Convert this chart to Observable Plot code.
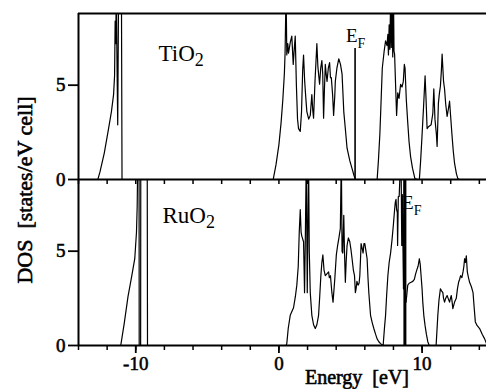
<!DOCTYPE html>
<html><head><meta charset="utf-8">
<script src="https://cdn.jsdelivr.net/npm/d3@7"></script>
<script src="https://cdn.jsdelivr.net/npm/@observablehq/plot@0.6"></script>
<style>
body{margin:0;background:#fff}#chart{width:486px;height:389px}
g[aria-label$="tick label"] text{stroke:black;stroke-width:0.55px}
</style>
</head><body><div id="chart"></div>
<script>
const panels = ["TiO2", "RuO2"];

// TiO2 DOS (energy in eV, states/eV cell)
const tiEnergy = [-14,-12.65,-12.5,-12.2,-11.9,-11.7,-11.55,-11.48,-11.44,-11.4,-11.36,-11.3,-11.26,-11.2,-11.0,-10.96,
  -0.4,-0.2,0.0,0.15,0.27,0.38,0.43,0.5,0.55,0.62,0.67,0.8,0.9,1.0,1.07,1.14,1.22,1.3,1.37,1.49,1.58,1.66,1.72,1.8,1.88,1.95,2.08,2.19,2.3,2.36,2.42,2.52,2.65,2.72,2.84,2.92,3.0,3.06,3.12,3.18,3.24,3.3,3.36,3.45,3.54,3.6,3.66,3.75,3.82,3.9,3.94,4.05,4.18,4.3,4.41,4.47,4.53,4.65,4.76,4.95,5.1,5.25,5.35,
  6.86,6.95,7.05,7.12,7.22,7.35,7.45,7.55,7.61,7.65,7.7,7.75,7.8,7.85,7.9,7.95,8.0,8.04,8.08,8.15,8.22,8.3,8.39,8.5,8.6,8.69,8.76,8.81,8.9,9.0,9.09,9.2,9.33,9.5,9.7,
  9.81,9.9,9.98,10.1,10.21,10.28,10.35,10.45,10.63,10.75,10.82,10.9,11.0,11.05,11.14,11.2,11.28,11.35,11.4,11.5,11.57,11.65,11.75,11.85,11.92,12.0,12.08,12.18,12.27,12.4,12.5,12.6,14.5];
const tiDos = [0,0,0.4,1.4,2.7,3.6,4.5,5.5,8.4,7.2,10,5.5,2.9,10,10,0,
  0,0.8,1.85,3.0,4.2,5.6,6.7,10,6.6,7.2,6.7,7.3,7.6,6.1,6.9,7.6,5.0,3.2,2.7,2.55,3.6,5.8,6.6,5.2,4.3,3.6,3.2,3.4,4.5,3.7,3.25,5.2,7.2,6.0,5.05,5.9,6.3,5.6,3.25,4.8,6.1,5.6,5.2,5.9,6.2,5.4,5.4,4.5,3.4,4.4,5.2,5.9,6.4,6.1,5.6,4.6,3.6,2.6,1.66,1.0,0.6,0.2,0,
  0,1.0,2.4,3.8,5.9,6.8,7.35,7.1,7.7,6.6,8.2,6.9,9.5,7.0,10,6.5,10,6.8,6.65,5.0,3.4,4.6,4.3,5.05,4.9,5.2,6.1,5.9,4.2,3.0,2.0,1.2,0.6,0.05,0,
  0,1.0,2.1,3.8,5.5,4.2,2.7,2.8,2.9,3.5,4.8,3.2,2.4,1.75,4.05,4.5,4.95,5.8,6.65,5.2,4.8,4.0,3.35,3.8,4.15,3.3,2.45,1.5,0.85,0.3,0.05,0,0];

// RuO2 DOS
const ruEnergy = [-14,-11.05,-10.8,-10.54,-10.3,-10.07,-9.95,-9.9,-9.86,-9.77,-9.76,-9.66,-9.65,-9.2,-9.18,
  0.5,0.55,0.65,0.79,1.02,1.15,1.25,1.35,1.42,1.49,1.55,1.6,1.72,1.76,1.79,1.85,1.91,1.98,2.07,2.12,2.19,2.3,2.42,2.54,2.65,2.77,2.85,2.93,3.0,3.07,3.15,3.24,3.35,3.47,3.52,3.6,3.7,3.78,3.9,4.01,4.1,4.18,4.29,4.36,4.41,4.46,4.53,4.58,4.64,4.7,4.76,4.85,4.95,5.03,5.11,5.2,5.28,5.34,5.39,5.45,5.53,5.6,5.65,5.7,5.74,5.8,5.88,5.94,6.0,6.08,6.16,6.22,6.28,6.4,6.52,6.63,6.75,6.86,6.98,7.1,7.28,
  7.3,7.38,7.45,7.52,7.61,7.7,7.8,7.9,7.99,8.08,8.13,8.18,8.22,8.27,8.29,8.34,8.4,8.43,8.5,8.53,8.58,8.62,8.7,8.75,8.8,8.88,9.0,9.1,9.23,9.35,9.46,9.55,9.65,9.72,9.81,9.87,9.93,10.0,10.05,10.12,10.21,10.3,10.4,10.5,
  10.98,11.04,11.1,11.18,11.28,11.36,11.45,11.5,11.57,11.65,11.75,11.82,11.92,11.98,12.04,12.1,12.15,12.2,12.27,12.39,12.47,12.55,12.62,12.69,12.78,12.86,12.92,12.97,13.03,13.09,13.16,13.24,13.32,13.45,13.56,13.64,13.72,13.85,14.02,14.2,14.37,14.5];
const ruDos = [0,0,1.2,2.6,3.6,4.6,6.0,7.4,10,10,0,0,10,10,0,
  0,0.1,0.9,1.6,2.0,2.6,3.2,4.2,6.0,7.2,6.0,5.8,5.5,4.0,2.8,6.0,10,2.8,10,5.0,2.8,1.6,1.1,0.9,1.1,1.6,2.6,3.7,4.4,4.8,4.0,3.7,3.8,3.9,3.6,3.7,2.8,2.3,3.5,4.8,5.3,5.65,6.2,10,5.0,4.9,6.9,5.0,3.35,4.5,5.3,5.7,5.5,5.1,4.6,4.0,3.7,2.8,3.0,3.4,3.2,3.3,3.7,4.6,5.4,5.2,4.9,5.4,5.4,5.0,4.6,3.6,2.8,1.6,1.2,0.9,0.6,0.35,0.2,0.1,0,
  0.2,1.0,1.6,2.6,3.7,4.4,4.9,5.6,6.35,7.2,7.6,7.75,7.2,7.05,5.3,7.9,7.9,8.5,10,10,5.3,8.0,3.0,10,2.3,2.3,3.2,3.3,3.35,3.4,3.5,3.8,4.05,4.2,4.6,4.3,3.7,3.0,2.3,1.6,1.05,0.6,0.2,0,
  0,0.8,1.6,2.4,3.0,2.9,2.8,2.5,2.3,2.5,2.65,2.5,2.3,2.5,2.65,2.3,1.95,2.1,2.3,2.5,3.0,3.35,3.5,3.7,3.6,3.9,4.2,4.6,4.4,4.75,3.9,3.6,3.35,3.1,2.8,2.0,1.25,1.05,0.9,0.6,0.35,0.1];

const fermiEnergy = [5.32, 8.8];
const fermiTop = [6.95, 8.8];
const yTicks = [0, 5];
const xTicks = d3.range(-14, 15, 2);
const xLabelTicks = [-10, 0, 10];

const rows = [
  ...tiEnergy.map((e, i) => ({panel: "TiO2", e, d: tiDos[i]})),
  ...ruEnergy.map((e, i) => ({panel: "RuO2", e, d: ruDos[i]}))
];

const font = "'Liberation Serif', 'Times New Roman', serif";
const plot = Plot.plot({
  width: 486, height: 389,
  marginTop: 13, marginBottom: 44, marginLeft: 78, marginRight: 0,
  style: {fontFamily: font, fontWeight: "normal", fontSize: "19px", background: "white", color: "black"},
  x: {domain: [-14, 14.5]},
  y: {domain: [0, 8.8]},
  fy: {domain: panels, padding: 0, axis: null, label: null},
  marks: [
    Plot.line(rows, {x: "e", y: "d", fy: "panel", z: "panel", stroke: "black", strokeWidth: 1.2, clip: true}),
    Plot.ruleX([{panel: "TiO2"}], {x: () => fermiEnergy[0], y1: 0, y2: () => fermiTop[0], fy: "panel", strokeWidth: 1.6}),
    Plot.ruleX([{panel: "RuO2"}], {x: () => fermiEnergy[1], y1: 0, y2: () => fermiTop[1], fy: "panel", strokeWidth: 3}),
    Plot.ruleY([0], {strokeWidth: 2.2}),
    Plot.ruleY([{panel: "TiO2"}], {y: () => 8.8, fy: "panel", strokeWidth: 2.2}),
    Plot.ruleX([-14], {strokeWidth: 2}),
    Plot.axisY({ticks: yTicks, tickSize: 10, tickPadding: 3, label: null, strokeWidth: 1.8, tickFormat: d => String(d)}),
    Plot.axisX({ticks: xTicks, tickSize: 5, tickFormat: () => "", facetAnchor: null, label: null, strokeWidth: 1.5}),
    Plot.axisX({ticks: xLabelTicks, tickSize: 8, tickPadding: 3, label: null, strokeWidth: 1.8, tickFormat: d => String(d)}),
    Plot.text([{panel: "TiO2", t: "TiO|2"}, {panel: "RuO2", t: "RuO|2"}], {
      x: d => d.panel === "TiO2" ? -8.41 : -8.13, y: d => d.panel === "TiO2" ? 6.26 : 6.52,
      fy: "panel", text: "t", textAnchor: "start", lineAnchor: "bottom", fontSize: 23
    }),
    Plot.text([{panel: "TiO2", t: "E|F"}, {panel: "RuO2", t: "E|F"}], {
      x: d => d.panel === "TiO2" ? 4.68 : 8.6, y: d => d.panel === "TiO2" ? 7.28 : 7.26,
      fy: "panel", text: "t", textAnchor: "start", lineAnchor: "bottom", fontSize: 19
    })
  ]
});

// subscripts
d3.select(plot).selectAll("text").each(function () {
  const t = this.textContent;
  if (!t.includes("|")) return;
  const [a, b] = t.split("|");
  const sel = d3.select(this);
  sel.text(a);
  const big = a !== "E";
  sel.append("tspan").attr("font-size", big ? 18 : 14).attr("dy", big ? 5 : 6).text(b);
});

const svg = d3.select(plot);
svg.append("text")
  .attr("transform", "translate(32,190) rotate(-90)")
  .attr("text-anchor", "middle").attr("font-size", 22)
  .attr("font-family", font).attr("fill", "black").attr("stroke", "black").attr("stroke-width", 0.6)
  .text("DOS\u00a0 [states/eV cell]");
svg.append("text")
  .attr("x", 357).attr("y", 384)
  .attr("text-anchor", "middle").attr("font-size", 20)
  .attr("font-family", font).attr("fill", "black").attr("stroke", "black").attr("stroke-width", 0.6)
  .text("Energy\u00a0 [eV]");

document.getElementById("chart").appendChild(plot);
</script>
</body></html>
